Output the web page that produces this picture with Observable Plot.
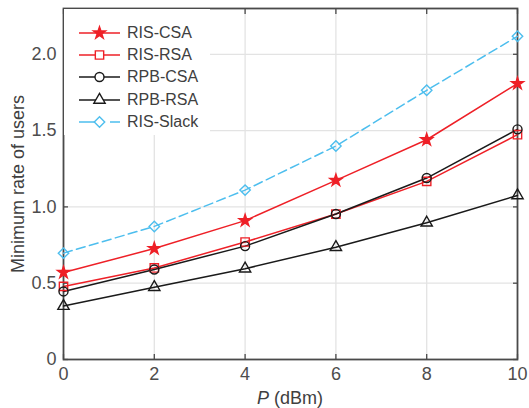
<!DOCTYPE html>
<html>
<head>
<meta charset="utf-8">
<script src="https://cdn.jsdelivr.net/npm/d3@7"></script>
<script src="https://cdn.jsdelivr.net/npm/@observablehq/plot@0.6"></script>
<style>
  html, body { margin: 0; padding: 0; background: white; }
  #wrap { position: relative; width: 529px; height: 408px; font-family: "Liberation Sans", Arial, sans-serif; }
  #legend { position: absolute; left: 64px; top: 9px; width: 146px; height: 126px; background: white; }
  #legend .row { position: absolute; left: 0; height: 20px; display: flex; align-items: center; }
  #legend span { font-size: 16px; color: #404040; margin-left: 6px; white-space: nowrap; }
  #xlabel { position: absolute; top: 389px; left: 0; width: 580px; text-align: center; font-size: 18px; line-height: 18px; color: #404040; }
  #ylabel { position: absolute; left: 17.5px; top: 183.5px; width: 0; height: 0; }
  #ylabel div { position: absolute; transform: translate(-50%, -50%) rotate(-90deg); font-size: 18px; line-height: 18px; color: #404040; white-space: nowrap; }
</style>
</head>
<body>
<div id="wrap"></div>
<script>
const P = [0, 2, 4, 6, 8, 10];
const seriesNames = ["RIS-CSA", "RIS-RSA", "RPB-CSA", "RPB-RSA", "RIS-Slack"];
const risCSA   = [0.57, 0.727, 0.91, 1.174, 1.44, 1.808];
const risRSA   = [0.479, 0.60, 0.77, 0.953, 1.167, 1.473];
const rpbCSA   = [0.446, 0.59, 0.743, 0.953, 1.189, 1.508];
const rpbRSA   = [0.35, 0.474, 0.595, 0.736, 0.896, 1.075];
const risSlack = [0.697, 0.872, 1.11, 1.399, 1.764, 2.118];
const xTicks = [0, 2, 4, 6, 8, 10];
const yTicks = [0, 0.5, 1.0, 1.5, 2.0];
const xLabel = "<i>P</i> (dBm)";
const yLabel = "Minimum rate of users";

const RED = "#ee2027", BLACK = "#1a1a1a", CYAN = "#4dbeee";
const styles = {
  "RIS-CSA":   {color: RED,   symbol: "star",     r: 3.8, fill: RED,    dash: null, legendDash: null},
  "RIS-RSA":   {color: RED,   symbol: "square",   r: 4.7, fill: "none", dash: null, legendDash: null},
  "RPB-CSA":   {color: BLACK, symbol: "circle",   r: 4.5, fill: "none", dash: null, legendDash: null},
  "RPB-RSA":   {color: BLACK, symbol: "triangle", r: 4.2, fill: "none", dash: null, legendDash: null},
  "RIS-Slack": {color: CYAN,  symbol: "diamond2", r: 4.7, fill: "none", dash: "9,4.5", legendDash: "21,10,12"}
};
const values = [risCSA, risRSA, rpbCSA, rpbRSA, risSlack];
const data = [];
seriesNames.forEach((name, i) => P.forEach((p, j) => data.push({series: name, P: p, rate: values[i][j]})));

const AX = "#4a4a4a";
const marks = [
  Plot.gridX(xTicks.slice(1, -1), {stroke: "#e3e3e3", strokeOpacity: 1, strokeWidth: 1.3}),
  Plot.gridY(yTicks.slice(1), {stroke: "#e3e3e3", strokeOpacity: 1, strokeWidth: 1.3}),
  Plot.axisX(xTicks, {tickSize: -5, tickPadding: 13, stroke: AX, strokeWidth: 1.3, fill: "#4d4d4d", fontSize: 18, label: null, tickFormat: d => String(d)}),
  Plot.axisX(xTicks, {anchor: "top", tickSize: -5, stroke: AX, strokeWidth: 1.3, label: null, tickFormat: () => ""}),
  Plot.axisY(yTicks, {tickSize: -5, tickPadding: 12, stroke: AX, strokeWidth: 1.3, fill: "#4d4d4d", fontSize: 18, label: null,
    tickFormat: d => d === 0 ? "0" : d.toFixed(1)}),
  Plot.axisY(yTicks, {anchor: "right", tickSize: -5, stroke: AX, strokeWidth: 1.3, label: null, tickFormat: () => ""}),
  Plot.frame({stroke: AX, strokeWidth: 1.8})
];
seriesNames.forEach(name => {
  const s = styles[name];
  const d = data.filter(e => e.series === name);
  marks.push(Plot.line(d, {x: "P", y: "rate", stroke: s.color, strokeWidth: 1.5, strokeDasharray: s.dash}));
});
seriesNames.forEach(name => {
  const s = styles[name];
  const d = data.filter(e => e.series === name);
  marks.push(Plot.dot(d, {x: "P", y: "rate", symbol: () => s.symbol, r: s.r, stroke: s.color, fill: s.fill, strokeWidth: 1.4}));
});

const chart = Plot.plot({
  width: 529, height: 408,
  marginLeft: 63, marginRight: 12, marginTop: 8, marginBottom: 49,
  style: {fontFamily: "'Liberation Sans', Arial, sans-serif", fontSize: "18px", color: "#4d4d4d", background: "white"},
  x: {domain: [0, 10]},
  y: {domain: [0, 2.3]},
  marks
});
d3.select(chart).selectAll('g[aria-label="x-axis tick label"], g[aria-label="y-axis tick label"]').attr("font-size", 18);
const wrap = document.getElementById("wrap");
wrap.appendChild(chart);

// legend
const legend = document.createElement("div");
legend.id = "legend";
const symMap = {star: d3.symbolStar, square: d3.symbolSquare, circle: d3.symbolCircle, triangle: d3.symbolTriangle, diamond2: d3.symbolDiamond2};
seriesNames.forEach((name, i) => {
  const s = styles[name];
  const row = document.createElement("div");
  row.className = "row";
  row.style.top = (14 + i * 22.2) + "px";
  const svg = d3.create("svg").attr("width", 57).attr("height", 20);
  svg.append("line").attr("x1", 15).attr("x2", 56).attr("y1", 10).attr("y2", 10)
    .attr("stroke", s.color).attr("stroke-width", 1.5).attr("stroke-dasharray", s.legendDash);
  svg.append("path").attr("transform", "translate(35.5,10)")
    .attr("d", d3.symbol(symMap[s.symbol], Math.PI * s.r * s.r)())
    .attr("stroke", s.color).attr("fill", s.fill === "none" ? "white" : s.fill).attr("stroke-width", 1.4);
  row.appendChild(svg.node());
  const t = document.createElement("span");
  t.textContent = name;
  row.appendChild(t);
  legend.appendChild(row);
});
wrap.appendChild(legend);

const xl = document.createElement("div");
xl.id = "xlabel";
xl.innerHTML = xLabel;
wrap.appendChild(xl);

const yl = document.createElement("div");
yl.id = "ylabel";
const yli = document.createElement("div");
yli.textContent = yLabel;
yl.appendChild(yli);
wrap.appendChild(yl);
</script>
</body>
</html>
